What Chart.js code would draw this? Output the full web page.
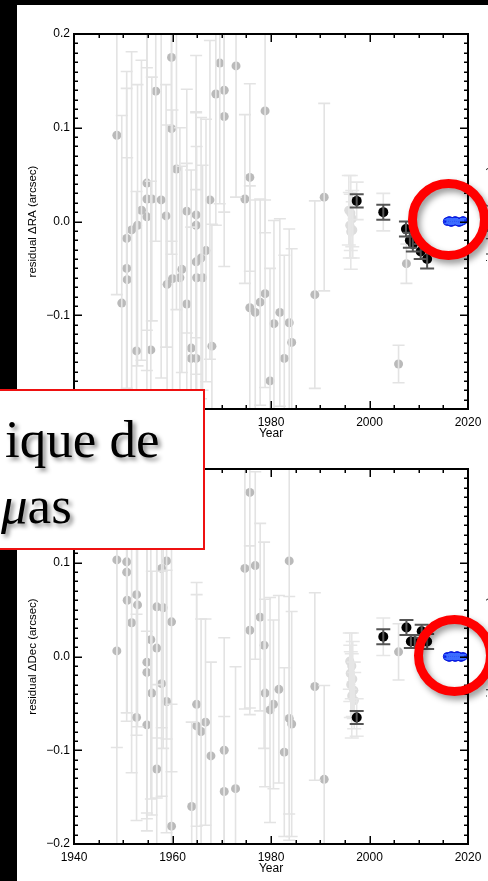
<!DOCTYPE html>
<html>
<head>
<meta charset="utf-8">
<script src="https://cdn.jsdelivr.net/npm/chart.js@4.4.1/dist/chart.umd.min.js"></script>
<style>
  html, body { margin: 0; padding: 0; background: #000; }
  body { width: 488px; height: 881px; position: relative; overflow: hidden; }
  #sheet { position: absolute; left: 17px; top: 5px; width: 471px; height: 876px; background: #fff; }
  canvas { position: absolute; left: 17px; }
  #raChart { top: 5px; }
  #decChart { top: 440px; }
  .edge {
    position: absolute; left: 490px; white-space: nowrap;
    font: 11.5px "Liberation Sans", Arial, sans-serif; color: #222;
    transform: translate(-50%, -50%) rotate(-90deg);
  }
  .ring {
    position: absolute; width: 81px; height: 81px; box-sizing: border-box;
    border: 9px solid #ff0000; border-radius: 50%;
    filter: drop-shadow(3px 4px 3px rgba(0,0,0,0.4));
  }
  #note {
    position: absolute; left: -6px; top: 389px; width: 211px; height: 161px;
    box-sizing: border-box; border: 2px solid #ee1111; background: #fff;
    font-family: "Liberation Serif", "Times New Roman", serif; font-size: 53px; color: #000;
    text-shadow: 3px 3px 4px rgba(0,0,0,0.45);
  }
  #note span { position: absolute; line-height: 53px; white-space: nowrap; }
  #note .l1 { left: 9px; top: 22px; }
  #note .l2 { left: 5px; top: 88px; }
</style>
</head>
<body>
<div id="sheet"></div>
<canvas id="raChart" width="471" height="437"></canvas>
<canvas id="decChart" width="471" height="437"></canvas>
<div class="edge" style="top:222px">residual ΔRA (arcsec)</div>
<div class="edge" style="top:655px">residual ΔDec (arcsec)</div>
<div class="ring" style="left:408px;top:179px"></div>
<div class="ring" style="left:414px;top:615px"></div>
<div id="note"><span class="l1">ique de</span><span class="l2"><i>μ</i>as</span></div>

<script>
// Axis ticks
const yearMajor = [1940, 1960, 1980, 2000, 2020];
const offsetMajor = [-0.2, -0.1, 0.0, 0.1, 0.2];

// ---- Right ascension residuals (arcsec) ----
// historical photographic / visual measurements
const raOldYear = [1948.7, 1949.7, 1950.7, 1950.7, 1950.8, 1951.7, 1952.9, 1952.7, 1953.7, 1954.8,
  1954.8, 1954.8, 1955.8, 1955.6, 1956.6, 1957.7, 1958.7, 1958.9, 1959.8, 1959.8,
  1960.0, 1960.8, 1961.9, 1961.5, 1962.9, 1962.9, 1963.8, 1963.8, 1964.8, 1964.8,
  1964.8, 1964.9, 1964.8, 1965.8, 1966.1, 1966.8, 1967.6, 1968.0, 1968.8, 1969.6,
  1970.5, 1970.5, 1972.9, 1974.7, 1975.7, 1975.7, 1976.8, 1977.8, 1978.8, 1978.8,
  1980.6, 1979.8, 1981.8, 1983.7, 1984.2, 1982.7, 1988.9, 1990.8, 2005.9, 2007.5];
const raOldVal = [0.092, -0.087, -0.018, -0.050, -0.062, -0.009, -0.004, -0.138, 0.012, 0.041,
  0.024, 0.005, 0.024, -0.137, 0.139, 0.023, 0.006, -0.067, 0.175, 0.099,
  -0.061, 0.056, -0.051, -0.060, 0.011, -0.088, -0.135, -0.146, 0.007, -0.004,
  -0.043, -0.060, -0.146, -0.039, -0.060, -0.031, 0.023, -0.133, 0.136, 0.169,
  0.140, 0.112, 0.166, 0.024, 0.047, -0.092, -0.097, -0.086, 0.118, -0.077,
  -0.109, -0.170, -0.097, -0.108, -0.129, -0.146, -0.078, 0.026, -0.152, -0.045];
const raOldErr = [0.17, 0.20, 0.16, 0.21, 0.13, 0.19, 0.15, 0.17, 0.16, 0.20,
  0.14, 0.22, 0.13, 0.18, 0.16, 0.19, 0.14, 0.17, 0.21, 0.12,
  0.18, 0.15, 0.11, 0.16, 0.13, 0.15, 0.19, 0.14, 0.17, 0.12,
  0.16, 0.14, 0.18, 0.15, 0.12, 0.14, 0.17, 0.13, 0.14, 0.15,
  0.13, 0.16, 0.14, 0.09, 0.10, 0.13, 0.12, 0.11, 0.13, 0.10,
  0.11, 0.12, 0.10, 0.10, 0.10, 0.11, 0.10, 0.10, 0.02, 0.021];
// mid-1990s measurements
const raFaintYear = [1995.8, 1996.2, 1996.5, 1996.0, 1996.6, 1996.2, 1997.4, 2002.8];
const raFaintVal = [0.012, 0.009, 0.003, -0.004, -0.009, -0.011, 0.022, 0.010];
const raFaintErr = [0.037, 0.040, 0.030, 0.035, 0.030, 0.040, 0.020, 0.020];
// modern CCD measurements
const raRecentYear = [1997.4, 2002.8, 2007.4, 2008.2, 2008.8, 2010.4, 2011.7];
const raRecentVal = [0.022, 0.010, -0.008, -0.020, -0.024, -0.032, -0.040];
const raRecentErr = [0.007, 0.008, 0.008, 0.008, 0.008, 0.008, 0.010];

// ---- Declination residuals (arcsec) ----
const decOldYear = [1975.7, 1974.7, 1976.8, 1975.7, 1977.8, 1978.6, 1978.8, 1979.8, 1980.5, 1948.7,
  1948.7, 1950.7, 1950.7, 1950.8, 1952.7, 1952.9, 1951.7, 1952.7, 1954.8, 1954.8,
  1955.6, 1955.8, 1956.8, 1956.8, 1954.8, 1957.8, 1958.1, 1957.8, 1958.8, 1958.8,
  1956.8, 1959.8, 1959.8, 1963.9, 1964.9, 1964.9, 1965.8, 1966.7, 1967.8, 1970.5,
  1970.5, 1972.8, 1983.7, 1981.6, 1983.7, 1984.2, 1982.7, 1988.9, 1990.8, 2005.9];
const decOldVal = [0.175, 0.094, 0.097, 0.028, 0.042, 0.012, -0.039, -0.057, -0.051, 0.103,
  0.006, 0.101, 0.090, 0.060, 0.066, 0.055, 0.036, -0.065, -0.006, -0.017,
  0.018, -0.039, 0.009, 0.053, -0.073, 0.094, 0.052, -0.029, 0.102, -0.048,
  -0.120, 0.037, -0.181, -0.160, -0.051, -0.074, -0.080, -0.070, -0.106, -0.100,
  -0.144, -0.141, 0.102, -0.035, -0.066, -0.072, -0.102, -0.032, -0.131, 0.005];
const decOldErr = [0.23, 0.15, 0.10, 0.09, 0.10, 0.11, 0.10, 0.12, 0.09, 0.20,
  0.21, 0.17, 0.15, 0.12, 0.15, 0.13, 0.16, 0.11, 0.18, 0.15,
  0.17, 0.13, 0.16, 0.14, 0.10, 0.17, 0.15, 0.12, 0.19, 0.14,
  0.09, 0.16, 0.13, 0.09, 0.13, 0.14, 0.12, 0.11, 0.10, 0.12,
  0.08, 0.13, 0.27, 0.10, 0.13, 0.12, 0.09, 0.10, 0.10, 0.03];
const decFaintYear = [1996.0, 1996.4, 1996.1, 1996.6, 1996.2, 1996.8, 1996.4, 1996.9, 1997.4, 2002.8];
const decFaintVal = [-0.005, -0.010, -0.018, -0.024, -0.030, -0.036, -0.042, -0.047, -0.065, 0.021];
const decFaintErr = [0.030, 0.035, 0.030, 0.040, 0.035, 0.030, 0.045, 0.030, 0.020, 0.020];
const decRecentYear = [1997.4, 2002.8, 2007.5, 2008.4, 2009.2, 2010.6, 2011.7];
const decRecentVal = [-0.065, 0.021, 0.031, 0.016, 0.016, 0.027, 0.016];
const decRecentErr = [0.007, 0.008, 0.008, 0.007, 0.007, 0.007, 0.008];

// ---- new high-precision epochs ----
const blueYear = [2015.8, 2016.2, 2016.6, 2017.0, 2017.4, 2017.8, 2018.2, 2018.6, 2019.0];
const raBlueVal = [0.000, 0.001, -0.001, 0.000, 0.001, 0.000, -0.001, 0.000, 0.001];
const decBlueVal = [0.000, -0.001, 0.001, 0.000, -0.001, 0.001, 0.000, -0.001, 0.000];
const blueErr = [0.002, 0.002, 0.002, 0.002, 0.002, 0.002, 0.002, 0.002, 0.002];

Chart.defaults.font.family = '"Liberation Sans", Arial, sans-serif';
Chart.defaults.color = '#000';

const pts = (xs, ys) => xs.map((x, i) => ({ x, y: ys[i] }));

// vertical error bars with caps, drawn right after their own dataset
const errorBars = {
  id: 'errorBars',
  afterDatasetDraw(chart, args) {
    const ds = chart.data.datasets[args.index];
    if (!ds.errors) return;
    const { ctx, chartArea: a, scales: { x, y } } = chart;
    ctx.save();
    ctx.beginPath();
    ctx.rect(a.left, a.top, a.right - a.left, a.bottom - a.top);
    ctx.clip();
    ctx.strokeStyle = ds.barColor;
    ctx.lineWidth = ds.barWidth;
    ds.data.forEach((p, i) => {
      const e = ds.errors[i];
      const px = x.getPixelForValue(p.x);
      const y1 = y.getPixelForValue(p.y + e);
      const y2 = y.getPixelForValue(p.y - e);
      const c = ds.capHalf;
      ctx.beginPath();
      ctx.moveTo(px, y1); ctx.lineTo(px, y2);
      ctx.moveTo(px - c, y1); ctx.lineTo(px + c, y1);
      ctx.moveTo(px - c, y2); ctx.lineTo(px + c, y2);
      ctx.stroke();
    });
    ctx.restore();
  }
};

// tick positions: every 5 years / every 0.01 arcsec, major ones longer
function tickValues(min, max, step) {
  const out = [];
  const n = Math.round((max - min) / step);
  for (let i = 0; i <= n; i++) out.push(min + i * step);
  return out;
}

// box frame with inward major/minor ticks on all four sides
const frame = {
  id: 'frame',
  afterDraw(chart) {
    const { ctx, chartArea: a, scales: { x, y } } = chart;
    ctx.save();
    ctx.strokeStyle = '#000';
    ctx.lineWidth = 1.5;
    ctx.lineCap = 'butt';
    ctx.beginPath();
    tickValues(x.min, x.max, 5).forEach(v => {
      const px = Math.round(x.getPixelForValue(v)) + 0.25;
      const len = yearMajor.includes(Math.round(v)) ? 8 : 4;
      ctx.moveTo(px, a.bottom); ctx.lineTo(px, a.bottom - len);
      ctx.moveTo(px, a.top); ctx.lineTo(px, a.top + len);
    });
    tickValues(y.min, y.max, 0.01).forEach(v => {
      const py = Math.round(y.getPixelForValue(v)) + 0.25;
      const k = Math.round(v * 100);
      const len = k % 10 === 0 ? 8 : 4;
      ctx.moveTo(a.left, py); ctx.lineTo(a.left + len, py);
      ctx.moveTo(a.right, py); ctx.lineTo(a.right - len, py);
    });
    ctx.stroke();
    ctx.lineWidth = 2;
    ctx.strokeRect(a.left, a.top, a.right - a.left, a.bottom - a.top);
    ctx.restore();
  }
};

function makeSets(oldY, oldV, oldE, fY, fV, fE, rY, rV, rE, bV) {
  return [
    { data: pts(oldY, oldV), errors: oldE, order: 4, pointRadius: 4.5, borderWidth: 0,
      backgroundColor: '#bababa', barColor: '#e3e3e3', barWidth: 1.6, capHalf: 6 },
    { data: pts(fY, fV), errors: fE, order: 3, pointRadius: 4.6, borderWidth: 0,
      backgroundColor: '#dddddd', barColor: '#e6e6e6', barWidth: 1.6, capHalf: 7 },
    { data: pts(rY, rV), errors: rE, order: 2, pointRadius: 5, borderWidth: 0,
      backgroundColor: '#000', barColor: '#555', barWidth: 2, capHalf: 7 },
    { data: pts(blueYear, bV), errors: blueErr, order: 1, pointRadius: 4, borderWidth: 1,
      backgroundColor: '#0b2af5', borderColor: '#0818d8', barColor: '#3d6dff', barWidth: 1.5, capHalf: 3 }
  ];
}

function makeChart(id, sets, yTitle) {
  return new Chart(document.getElementById(id), {
    type: 'scatter',
    data: { datasets: sets },
    options: {
      responsive: false,
      animation: false,
      devicePixelRatio: 1,
      layout: { padding: { left: 0, top: 29, right: 20, bottom: 0 } },
      plugins: { legend: { display: false }, tooltip: { enabled: false } },
      scales: {
        x: {
          type: 'linear', min: 1940, max: 2020,
          grid: { display: false, drawTicks: false }, border: { display: false },
          ticks: {
            stepSize: 5, autoSkip: false, maxRotation: 0, padding: 6,
            font: { size: 12 },
            callback: v => yearMajor.includes(Math.round(v)) ? String(Math.round(v)) : ''
          },
          title: { display: true, text: 'Year', font: { size: 12 }, padding: { top: 0, bottom: 1 } },
          afterFit: s => { s.height = 33; }
        },
        y: {
          type: 'linear', min: -0.2, max: 0.2,
          grid: { display: false, drawTicks: false }, border: { display: false },
          ticks: {
            stepSize: 0.01, autoSkip: false, padding: 4,
            font: { size: 12 },
            callback: v => {
              const k = Math.round(v * 100);
              const m = offsetMajor.find(o => Math.round(o * 100) === k);
              return m === undefined ? '' : (m < 0 ? '\u2212' : '') + Math.abs(m).toFixed(1);
            }
          },
          title: { display: true, text: yTitle, font: { size: 11.5 }, padding: { top: 9, bottom: 0 } },
          afterFit: s => { s.width = 57; }
        }
      }
    },
    plugins: [errorBars, frame]
  });
}

makeChart('raChart',
  makeSets(raOldYear, raOldVal, raOldErr, raFaintYear, raFaintVal, raFaintErr,
           raRecentYear, raRecentVal, raRecentErr, raBlueVal),
  'residual \u0394RA (arcsec)');
makeChart('decChart',
  makeSets(decOldYear, decOldVal, decOldErr, decFaintYear, decFaintVal, decFaintErr,
           decRecentYear, decRecentVal, decRecentErr, decBlueVal),
  'residual \u0394Dec (arcsec)');
</script>
</body>
</html>
